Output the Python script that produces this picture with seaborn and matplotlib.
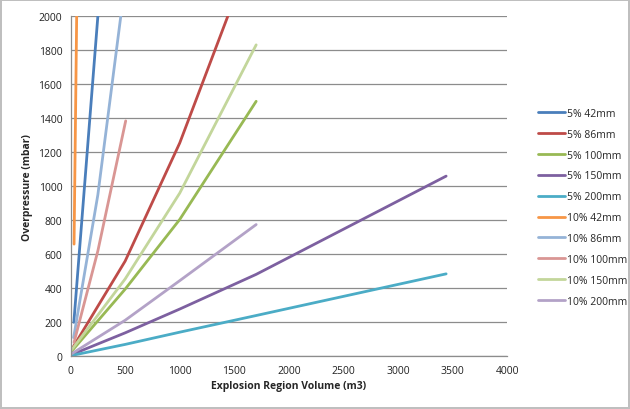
import matplotlib
matplotlib.use("Agg")
import matplotlib.pyplot as plt
import pandas as pd
import seaborn as sns
from matplotlib.lines import Line2D

# Series names (legend order) and colours
series = ["5% 42mm", "5% 86mm", "5% 100mm", "5% 150mm", "5% 200mm",
          "10% 42mm", "10% 86mm", "10% 100mm", "10% 150mm", "10% 200mm"]
colors = ["#4A7EBB", "#BE4B48", "#98B954", "#7D60A0", "#4BACC6",
          "#F79646", "#95B3D7", "#D99694", "#C3D69B", "#B3A2C7"]

# Values: volume (m3) / overpressure (mbar)
vol_5_42 = [30, 250]
op_5_42 = [200, 2000]
vol_5_86 = [10, 500, 1000, 1440]
op_5_86 = [40, 560, 1255, 2000]
vol_5_100 = [10, 500, 1000, 1700]
op_5_100 = [30, 395, 805, 1500]
vol_5_150 = [10, 500, 1000, 1700, 3440]
op_5_150 = [10, 138, 278, 482, 1060]
vol_5_200 = [10, 500, 1000, 1700, 3440]
op_5_200 = [5, 70, 142, 240, 485]
vol_10_42 = [32, 56]
op_10_42 = [660, 2000]
vol_10_86 = [28, 250, 460]
op_10_86 = [110, 950, 2000]
vol_10_100 = [32, 250, 505]
op_10_100 = [82, 620, 1385]
vol_10_150 = [10, 500, 1000, 1700]
op_10_150 = [38, 455, 960, 1832]
vol_10_200 = [10, 500, 1000, 1700]
op_10_200 = [15, 212, 445, 775]

vols = [vol_5_42, vol_5_86, vol_5_100, vol_5_150, vol_5_200,
        vol_10_42, vol_10_86, vol_10_100, vol_10_150, vol_10_200]
ops = [op_5_42, op_5_86, op_5_100, op_5_150, op_5_200,
       op_10_42, op_10_86, op_10_100, op_10_150, op_10_200]

rows = []
for name, v, p in zip(series, vols, ops):
    for x, y in zip(v, p):
        rows.append({"series": name, "volume": x, "overpressure": y})
df = pd.DataFrame(rows)

sns.set_style("white")
plt.rcParams["font.family"] = ["Open Sans", "DejaVu Sans"]

fig = plt.figure(figsize=(6.3, 4.1), dpi=100)
fig.patch.set_edgecolor("#BFBFBF")
fig.patch.set_linewidth(1.5)
ax = fig.add_axes([0.112, 0.1285, 0.6932, 0.8293])

palette = dict(zip(series, colors))
sns.lineplot(data=df, x="volume", y="overpressure", hue="series", hue_order=series,
             units="series", estimator=None, sort=False, palette=palette,
             linewidth=2.0, legend=False, ax=ax)

ax.set_xlim(0, 4000)
ax.set_ylim(0, 2000)
ax.set_xticks(range(0, 4001, 500))
ax.set_yticks(range(0, 2001, 200))
ax.yaxis.grid(True, color="#8C8C8C", linewidth=0.9)
ax.set_axisbelow(True)
for s in ["top", "right"]:
    ax.spines[s].set_visible(False)
for s in ["left", "bottom"]:
    ax.spines[s].set_color("#8C8C8C")
    ax.spines[s].set_linewidth(0.9)
ax.tick_params(axis="both", direction="out", length=4, width=0.9, color="#8C8C8C",
               labelsize=7.5, labelcolor="#222222", pad=2)
ax.set_xlabel("Explosion Region Volume (m3)", fontsize=7.5, fontweight="bold", labelpad=3)
ax.set_ylabel("Overpressure (mbar)", fontsize=7.5, fontweight="bold", labelpad=4)

handles = [Line2D([0], [0], color=c, lw=2.0) for c in colors]
fig.legend(handles, series, loc="upper left", bbox_to_anchor=(0.848, 0.745),
           frameon=False, fontsize=7.5, handlelength=2.6, handletextpad=0.1,
           labelspacing=0.95, borderaxespad=0)

fig.savefig("out.png", dpi=100, edgecolor=fig.get_edgecolor())
